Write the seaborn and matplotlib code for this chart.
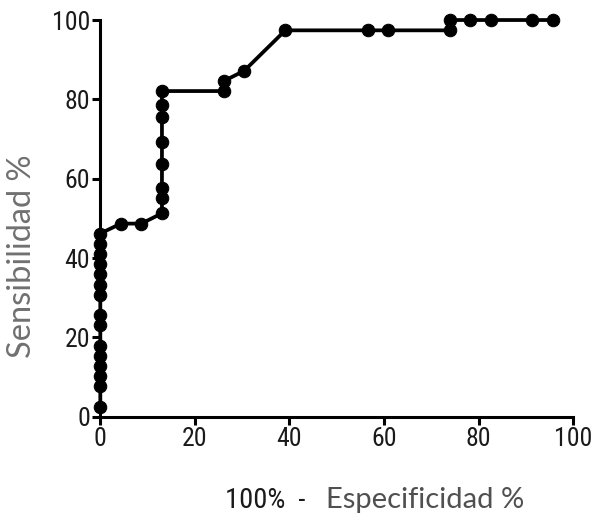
import matplotlib
matplotlib.use("Agg")
import matplotlib.pyplot as plt
import seaborn as sns
import pandas as pd
from matplotlib import font_manager

# Data: ROC curve points (100% - specificity, sensitivity)
fpr = [0, 0, 0, 0, 0, 0, 0, 0, 0, 0, 0, 0, 0, 0, 0,
       4.35, 8.70,
       13.04, 13.04, 13.04, 13.04, 13.04, 13.04, 13.04, 13.04,
       26.09, 26.09, 30.43, 39.13, 56.52, 60.87, 73.91,
       73.91, 78.26, 82.61, 91.30, 95.65]
tpr = [2.6, 7.7, 10.3, 12.8, 15.4, 17.9, 23.1, 25.6, 30.8, 33.3, 35.9, 38.5, 41.0, 43.6, 46.2,
       48.7, 48.7,
       51.3, 55.1, 57.7, 63.6, 69.3, 75.6, 78.6, 82.1,
       82.1, 84.6, 87.2, 97.4, 97.4, 97.4, 97.4,
       100, 100, 100, 100, 100]
xticks = [0, 20, 40, 60, 80, 100]
yticks = [0, 20, 40, 60, 80, 100]

df = pd.DataFrame({"fpr": fpr, "tpr": tpr})

sns.set_style("white")
names = {f.name for f in font_manager.fontManager.ttflist}
narrow = "Roboto Condensed" if "Roboto Condensed" in names else "Roboto"

fig = plt.figure(figsize=(5.97, 5.27), dpi=100)
ax = fig.add_axes([0.168, 0.209, 0.792, 0.753])

sns.lineplot(data=df, x="fpr", y="tpr", sort=False, estimator=None,
             color="black", linewidth=2.7, marker="o", markersize=9,
             markeredgecolor="black", markerfacecolor="black", ax=ax, clip_on=False)

ax.set_xlim(0, 100)
ax.set_ylim(0, 100)
ax.set_xticks(xticks)
ax.set_yticks(yticks)
for s in ["top", "right"]:
    ax.spines[s].set_visible(False)
for s in ["left", "bottom"]:
    ax.spines[s].set_linewidth(2.2)
    ax.spines[s].set_color("black")
ax.tick_params(axis="both", which="major", bottom=True, left=True, direction="out",
               length=6, width=2.2, colors="black",
               labelsize=18.5, labelcolor="#1a1a1a", pad=1.5)
for lab in ax.get_xticklabels() + ax.get_yticklabels():
    lab.set_family(narrow)
ax.set_xlabel("")
ax.set_ylabel("")

fig.text(0.037, 0.514, "Sensibilidad %", rotation=90, ha="center", va="center",
         fontsize=23.5, color="#707070", family="Lato")
fig.text(0.377, 0.036, "100%  -", ha="left", va="baseline", fontsize=20.5,
         color="#1a1a1a", family=narrow)
fig.text(0.546, 0.036, "Especificidad %", ha="left", va="baseline", fontsize=21,
         color="#505050", family="Lato")

fig.savefig("out.png", dpi=100)
